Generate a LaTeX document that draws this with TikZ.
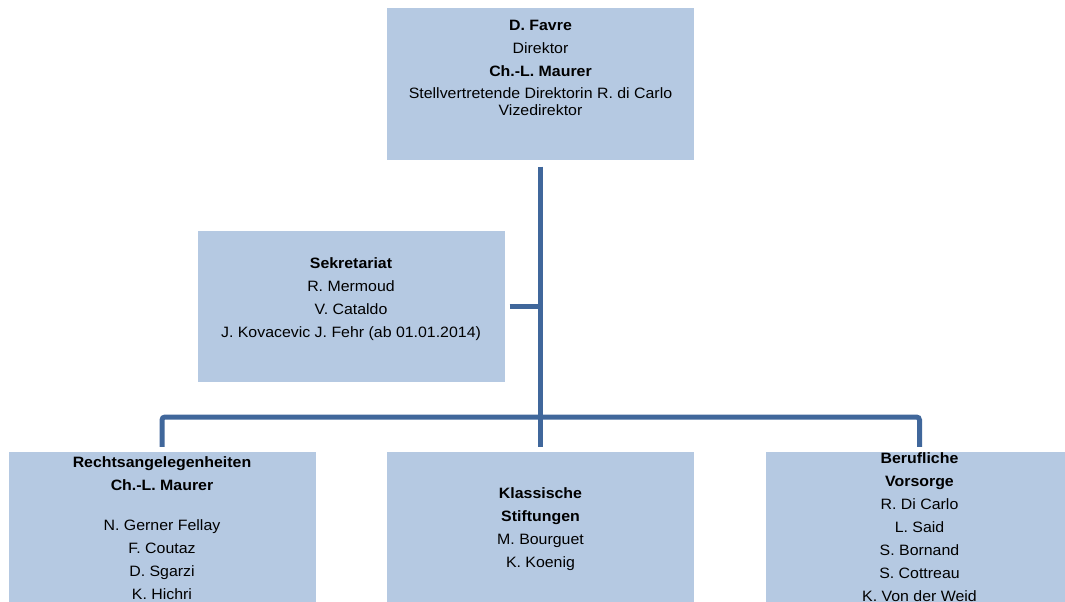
\documentclass[tikz,border=0pt]{standalone}
\usepackage{fontspec}
\setmainfont{Liberation Sans}[FakeStretch=1.06]
\definecolor{boxfill}{RGB}{181,201,226}
\definecolor{linecol}{RGB}{64,103,155}
\begin{document}
\begin{tikzpicture}[x=1pt,y=-1pt,
  orgbox/.style={rectangle, fill=boxfill, draw=none, minimum width=307pt, minimum height=151pt, inner sep=0pt},
  orgtext/.style={anchor=north, align=center, inner sep=0pt, font=\fontsize{15}{23}\selectfont},
  conn/.style={draw=linecol, line width=5pt, rounded corners=3pt}]
\useasboundingbox (0,0) rectangle (1065,602);
% boxes
\node[orgbox] (top) at (540.5,84) {};
\node[orgbox] (sek) at (351,306.5) {};
\node[orgbox] (left) at (162,527.5) {};
\node[orgbox] (mid) at (540.5,527.5) {};
\node[orgbox] (right) at (919.5,527.5) {};
% texts
\node[orgtext] (ttop) at (540.5,19.5) {\rule{0pt}{11pt}\textbf{D. Favre}\\Direktor\\\textbf{Ch.-L. Maurer}\\[-1pt]Stellvertretende Direktorin R. di Carlo\\[-6pt]Vizedirektor};
\node[orgtext] (tsek) at (351,257.5) {\rule{0pt}{11pt}\textbf{Sekretariat}\\R. Mermoud\\V. Cataldo\\J. Kovacevic J. Fehr (ab 01.01.2014)};
\node[orgtext] (tleft) at (162,456) {\rule{0pt}{11pt}\textbf{Rechtsangelegenheiten}\\\textbf{Ch.-L. Maurer}\\[17pt]N. Gerner Fellay\\F. Coutaz\\D. Sgarzi\\K. Hichri};
\node[orgtext] (tmid) at (540.5,487) {\rule{0pt}{11pt}\textbf{Klassische}\\\textbf{Stiftungen}\\M. Bourguet\\K. Koenig};
\node[orgtext] (tright) at (919.5,452) {\rule{0pt}{11pt}\textbf{Berufliche}\\\textbf{Vorsorge}\\R. Di Carlo\\L. Said\\S. Bornand\\S. Cottreau\\K. Von der Weid};
% connectors
\coordinate (bar) at (540.5,417);
\coordinate (sekjoin) at (540.5,306);
\draw[conn] ([yshift=-7pt]top.south) -- ([yshift=5pt]mid.north);
\draw[conn] ([xshift=5pt]sek.east |- sekjoin) -- (sekjoin);
\draw[conn] ([yshift=5pt]left.north) |- (bar) -| ([yshift=5pt]right.north);
\end{tikzpicture}
\end{document}
